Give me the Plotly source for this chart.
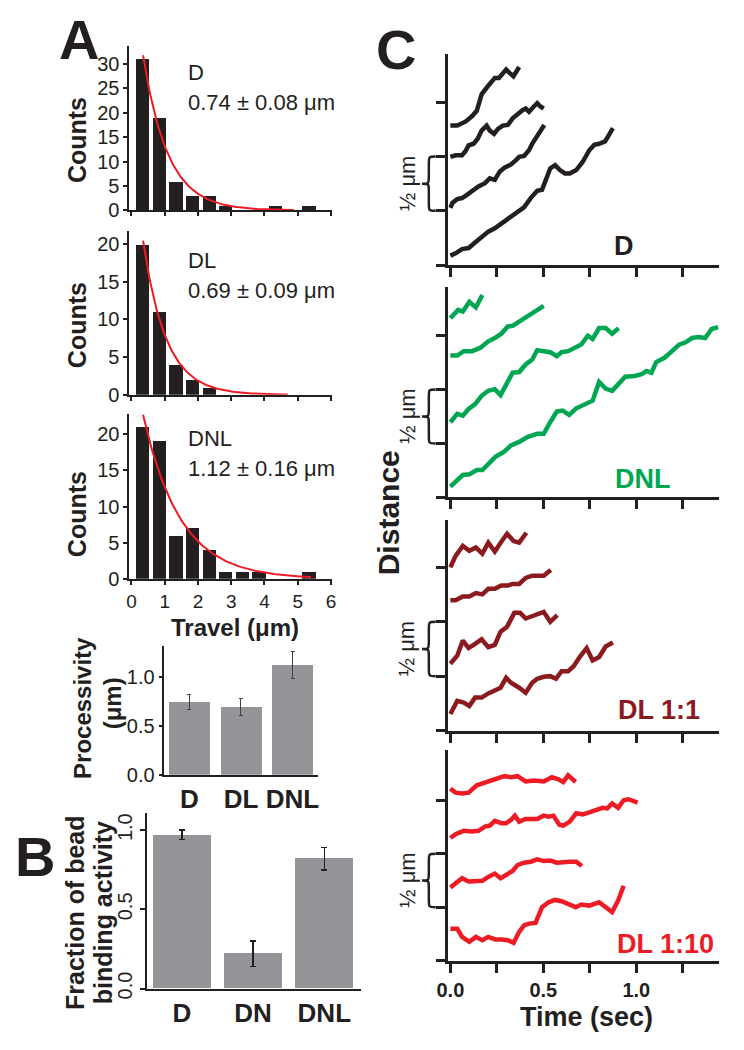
import numpy as np
import plotly.graph_objects as go

# ---------------- data ----------------
HIST_BIN_CENTERS = [0.35, 0.85, 1.35, 1.85, 2.35, 2.85, 3.35, 3.85, 4.35, 4.85, 5.35]
COUNTS_D = [31, 19, 6, 3, 3, 1, 0, 0, 1, 0, 1]
COUNTS_DL = [20, 11, 4, 2, 1, 0, 0, 0, 0, 0, 0]
COUNTS_DNL = [21, 19, 6, 7, 4, 1, 1, 1, 0, 0, 1]

HIST_NAMES = ["D", "DL", "DNL"]
HIST_MEAN_TEXT = ["0.74 ± 0.08 μm", "0.69 ± 0.09 μm", "1.12 ± 0.16 μm"]
FIT_DECAY = [0.74, 0.69, 1.12]          # mean travel (um) of exponential fits
FIT_AMPLITUDE = [50.9, 34.0, 31.0]      # fit amplitude (counts)
FIT_START = [0.35, 0.35, 0.35]
FIT_END = [4.9, 4.7, 5.4]

PROC_GROUPS = ["D", "DL", "DNL"]
PROC_MEAN = [0.74, 0.69, 1.12]
PROC_ERR = [0.08, 0.09, 0.14]

BIND_GROUPS = ["D", "DN", "DNL"]
BIND_MEAN = [0.97, 0.22, 0.82]
BIND_ERR = [0.03, 0.08, 0.07]

# Panel C traces (time in s, distance in um)
T_D1 = [0, 0.037, 0.081, 0.116, 0.142, 0.168, 0.195, 0.221, 0.239, 0.261, 0.277, 0.3, 0.318, 0.339, 0.356, 0.37]
S_D1 = [1.285, 1.285, 1.321, 1.37, 1.421, 1.573, 1.633, 1.679, 1.724, 1.724, 1.755, 1.8, 1.77, 1.739, 1.785, 1.824]
T_D2 = [0, 0.028, 0.063, 0.081, 0.098, 0.125, 0.147, 0.168, 0.195, 0.212, 0.235, 0.256, 0.282, 0.309, 0.335, 0.361, 0.388, 0.405, 0.423, 0.449, 0.467, 0.484, 0.502]
S_D2 = [0.997, 1.012, 1.012, 1.048, 1.103, 1.118, 1.164, 1.239, 1.285, 1.239, 1.209, 1.255, 1.285, 1.291, 1.352, 1.391, 1.427, 1.442, 1.412, 1.461, 1.491, 1.461, 1.442]
T_D3 = [0, 0.011, 0.037, 0.063, 0.089, 0.116, 0.151, 0.186, 0.212, 0.239, 0.265, 0.291, 0.326, 0.353, 0.370, 0.396, 0.423, 0.440, 0.458, 0.475, 0.493, 0.505]
S_D3 = [0.527, 0.573, 0.609, 0.618, 0.648, 0.685, 0.724, 0.755, 0.8, 0.785, 0.861, 0.897, 0.927, 0.967, 0.997, 1.006, 1.058, 1.118, 1.164, 1.224, 1.255, 1.291]
T_D4 = [0, 0.028, 0.063, 0.098, 0.133, 0.168, 0.204, 0.239, 0.274, 0.309, 0.361, 0.396, 0.432, 0.467, 0.493, 0.516, 0.537, 0.563, 0.589, 0.616, 0.642, 0.677, 0.712, 0.747, 0.774, 0.8, 0.832, 0.853, 0.874]
S_D4 = [0.088, 0.109, 0.148, 0.158, 0.209, 0.261, 0.309, 0.339, 0.382, 0.430, 0.482, 0.533, 0.618, 0.685, 0.694, 0.785, 0.891, 0.921, 0.876, 0.845, 0.845, 0.876, 0.952, 1.058, 1.109, 1.118, 1.139, 1.2, 1.261]

T_N1 = [0, 0.042, 0.067, 0.102, 0.137, 0.172]
S_N1 = [1.661, 1.737, 1.722, 1.813, 1.761, 1.875]
T_N2 = [0, 0.037, 0.072, 0.116, 0.160, 0.204, 0.239, 0.274, 0.309, 0.335, 0.370, 0.405, 0.440, 0.475, 0.502]
S_N2 = [1.315, 1.315, 1.355, 1.355, 1.385, 1.446, 1.477, 1.517, 1.584, 1.590, 1.630, 1.670, 1.700, 1.743, 1.774]
T_N3 = [0, 0.037, 0.067, 0.098, 0.133, 0.168, 0.204, 0.239, 0.270, 0.300, 0.335, 0.370, 0.405, 0.440, 0.467, 0.502, 0.537, 0.572, 0.598, 0.633, 0.668, 0.704, 0.739, 0.765, 0.8, 0.835, 0.870, 0.905]
S_N3 = [0.697, 0.774, 0.758, 0.820, 0.865, 0.942, 0.988, 1.003, 0.948, 1.049, 1.156, 1.162, 1.232, 1.278, 1.364, 1.355, 1.346, 1.309, 1.346, 1.355, 1.385, 1.416, 1.498, 1.468, 1.569, 1.569, 1.517, 1.569]
T_N4 = [0, 0.028, 0.067, 0.102, 0.142, 0.172, 0.207, 0.242, 0.288, 0.326, 0.370, 0.414, 0.467, 0.502, 0.537, 0.572, 0.604, 0.639, 0.677, 0.730, 0.765, 0.8, 0.835, 0.870, 0.905, 0.940, 0.993, 1.028, 1.054, 1.081, 1.107, 1.151, 1.186, 1.230, 1.265, 1.300, 1.335, 1.370, 1.405, 1.440]
S_N4 = [0.101, 0.141, 0.208, 0.214, 0.254, 0.254, 0.315, 0.376, 0.422, 0.483, 0.514, 0.560, 0.590, 0.590, 0.697, 0.795, 0.804, 0.765, 0.826, 0.865, 0.896, 1.070, 1.009, 0.988, 1.049, 1.119, 1.125, 1.141, 1.171, 1.156, 1.254, 1.294, 1.346, 1.416, 1.437, 1.477, 1.486, 1.477, 1.560, 1.578]

T_L1 = [0, 0.028, 0.067, 0.102, 0.137, 0.172, 0.204, 0.239, 0.274, 0.305, 0.340, 0.370, 0.409]
S_L1 = [1.5, 1.606, 1.697, 1.652, 1.682, 1.627, 1.727, 1.645, 1.736, 1.809, 1.742, 1.727, 1.818]
T_L2 = [0, 0.028, 0.067, 0.102, 0.137, 0.172, 0.204, 0.239, 0.274, 0.309, 0.335, 0.370, 0.405, 0.440, 0.502, 0.540]
S_L2 = [1.197, 1.197, 1.233, 1.233, 1.264, 1.252, 1.303, 1.303, 1.333, 1.333, 1.348, 1.348, 1.403, 1.424, 1.424, 1.476]
T_L3 = [0, 0.037, 0.067, 0.098, 0.133, 0.168, 0.204, 0.239, 0.270, 0.305, 0.344, 0.375, 0.405, 0.449, 0.502, 0.537, 0.575]
S_L3 = [0.615, 0.688, 0.827, 0.758, 0.797, 0.839, 0.767, 0.788, 0.909, 0.955, 1.082, 1.082, 1.030, 1.061, 1.091, 1.0, 1.061]
T_L4 = [0, 0.037, 0.072, 0.102, 0.133, 0.168, 0.204, 0.239, 0.270, 0.300, 0.326, 0.370, 0.405, 0.440, 0.467, 0.502, 0.537, 0.568, 0.598, 0.633, 0.663, 0.698, 0.733, 0.765, 0.8, 0.835, 0.874]
S_L4 = [0.152, 0.273, 0.258, 0.227, 0.303, 0.303, 0.342, 0.373, 0.394, 0.485, 0.439, 0.394, 0.348, 0.439, 0.476, 0.494, 0.5, 0.476, 0.545, 0.545, 0.591, 0.682, 0.758, 0.645, 0.676, 0.773, 0.809]

T_M1 = [0, 0.028, 0.063, 0.098, 0.142, 0.186, 0.239, 0.291, 0.326, 0.361, 0.405, 0.449, 0.502, 0.546, 0.581, 0.607, 0.633, 0.651, 0.674]
S_M1 = [1.611, 1.574, 1.565, 1.574, 1.642, 1.667, 1.698, 1.728, 1.719, 1.728, 1.679, 1.688, 1.679, 1.719, 1.698, 1.673, 1.735, 1.704, 1.673]
T_M2 = [0, 0.028, 0.072, 0.116, 0.151, 0.186, 0.212, 0.239, 0.274, 0.300, 0.326, 0.347, 0.370, 0.405, 0.432, 0.467, 0.502, 0.528, 0.554, 0.586, 0.607, 0.642, 0.677, 0.712, 0.747, 0.791, 0.818, 0.844, 0.870, 0.902, 0.932, 0.958, 0.984, 1.007]
S_M2 = [1.148, 1.185, 1.216, 1.210, 1.216, 1.256, 1.265, 1.309, 1.287, 1.287, 1.318, 1.358, 1.302, 1.327, 1.327, 1.327, 1.358, 1.349, 1.358, 1.272, 1.265, 1.302, 1.380, 1.370, 1.389, 1.420, 1.432, 1.426, 1.472, 1.432, 1.503, 1.512, 1.494, 1.481]
T_M3 = [0, 0.028, 0.063, 0.098, 0.137, 0.172, 0.204, 0.239, 0.270, 0.300, 0.335, 0.361, 0.396, 0.432, 0.467, 0.502, 0.537, 0.572, 0.607, 0.642, 0.677, 0.707]
S_M3 = [0.685, 0.722, 0.772, 0.741, 0.741, 0.747, 0.784, 0.815, 0.772, 0.809, 0.840, 0.895, 0.917, 0.926, 0.948, 0.932, 0.938, 0.917, 0.926, 0.926, 0.926, 0.886]
T_M4 = [0, 0.037, 0.063, 0.102, 0.137, 0.172, 0.204, 0.242, 0.277, 0.309, 0.340, 0.370, 0.396, 0.423, 0.458, 0.493, 0.528, 0.563, 0.598, 0.633, 0.674, 0.704, 0.747, 0.8, 0.835, 0.870, 0.902, 0.932]
S_M4 = [0.299, 0.299, 0.222, 0.176, 0.222, 0.191, 0.222, 0.198, 0.198, 0.191, 0.167, 0.269, 0.330, 0.346, 0.352, 0.5, 0.546, 0.568, 0.556, 0.531, 0.5, 0.525, 0.515, 0.546, 0.494, 0.454, 0.562, 0.701]

C_PANEL_LABELS = ["D", "DNL", "DL 1:1", "DL 1:10"]
TIME_TICKS = [0, 0.25, 0.5, 0.75, 1.0, 1.25]
TIME_TICK_TEXT = ["0.0", "", "0.5", "", "1.0", ""]

# ---------------- styling / layout helpers ----------------
W, H = 744, 1050
FONT = "Liberation Sans, Arial, Helvetica, sans-serif"
INK = "#231f20"
GRAY_BAR = "#939598"
RED = "#ED1C24"
C_COLORS = [INK, "#00A651", "#8B1A1F", "#ED1C24"]


def px_x(p):
    return p / W


def px_y(p):
    return 1 - p / H


def names(n):
    s = "" if n == 1 else str(n)
    return "xaxis" + s, "yaxis" + s, "x" + s, "y" + s


fig = go.Figure()
layout_axes = {}


def set_axes(n, xl, xr, yt, yb, xrange, yrange, xkw=None, ykw=None, lw=2, tl=4, tw=2):
    xa, ya, xr_, yr_ = names(n)
    base = dict(showline=True, linecolor=INK, linewidth=lw, ticks="outside", ticklen=tl,
                tickwidth=tw, tickcolor=INK, showgrid=False, zeroline=False,
                tickfont=dict(family=FONT, size=20, color=INK))
    xd = dict(base, domain=[px_x(xl), px_x(xr)], range=xrange, anchor=yr_)
    yd = dict(base, domain=[px_y(yb), px_y(yt)], range=yrange, anchor=xr_)
    if xkw:
        xd.update(xkw)
    if ykw:
        yd.update(ykw)
    layout_axes[xa] = xd
    layout_axes[ya] = yd
    return xr_, yr_


annotations = []


def text(x, y, s, size, color=INK, bold=False, angle=0, xanchor="center", yanchor="middle", xref="paper", yref="paper"):
    annotations.append(dict(
        x=x, y=y, xref=xref, yref=yref, text=s, showarrow=False, textangle=angle,
        xanchor=xanchor, yanchor=yanchor,
        font=dict(family=FONT, size=size, color=color, weight="bold" if bold else "normal")))


# ---------------- Panel A histograms ----------------
hist_counts = [COUNTS_D, COUNTS_DL, COUNTS_DNL]
hist_geom = [(46, 212.7, 33.7, [0, 5, 10, 15, 20, 25, 30]),
             (233, 399, 21.8, [0, 5, 10, 15, 20]),
             (418.3, 585, 22.8, [0, 5, 10, 15, 20])]
label_rows = [(73.5, 103.5), (263.5, 293.5), (443.5, 473.5)]
counts_label_y = [142, 329, 520]
for i in range(3):
    top, bot, ymax, yt = hist_geom[i]
    xkw = dict(tickvals=[0, 1, 2, 3, 4, 5, 6], showticklabels=(i == 2),
               tickfont=dict(family=FONT, size=19, color=INK))
    ykw = dict(tickvals=yt)
    xr_, yr_ = set_axes(i + 1, 120, 327, top, bot, [-0.06, 6.03], [0, ymax], xkw, ykw)
    fig.add_trace(go.Bar(x=HIST_BIN_CENTERS, y=hist_counts[i], width=0.4,
                         marker=dict(color=INK, line=dict(width=0)), xaxis=xr_, yaxis=yr_))
    xf = np.linspace(FIT_START[i], FIT_END[i], 120)
    yf = FIT_AMPLITUDE[i] * np.exp(-xf / FIT_DECAY[i])
    fig.add_trace(go.Scatter(x=xf, y=yf, mode="lines", line=dict(color=RED, width=2),
                             xaxis=xr_, yaxis=yr_))
    text(px_x(178), px_y(label_rows[i][0]), HIST_NAMES[i], 22, xanchor="left")
    text(px_x(178), px_y(label_rows[i][1]), HIST_MEAN_TEXT[i], 22, xanchor="left")
    text(px_x(66), px_y(counts_label_y[i]), "Counts", 25, bold=True, angle=-90)

text(px_x(228), px_y(634), "Travel (μm)", 24, bold=True)
text(px_x(68), px_y(40), "A", 56, bold=True)

# ---------------- Processivity bar chart ----------------
xr_, yr_ = set_axes(4, 155, 313, 653, 783, [-0.5, 2.5], [0, 1.31],
                    xkw=dict(ticks="", tickfont=dict(family=FONT, size=26, color=INK, weight="bold")),
                    ykw=dict(tickvals=[0, 0.5, 1.0], tickformat=".1f", ticklen=3))
fig.add_trace(go.Bar(x=PROC_GROUPS, y=PROC_MEAN, width=0.8,
                     marker=dict(color=GRAY_BAR, line=dict(width=0)),
                     error_y=dict(type="data", array=PROC_ERR, color="#414042", thickness=1, width=2),
                     xaxis=xr_, yaxis=yr_))
text(px_x(72), px_y(715), "Processivity", 24, bold=True, angle=-90)
text(px_x(103), px_y(711), "(μm)", 24, bold=True, angle=-90)

# ---------------- Panel B ----------------
xr_, yr_ = set_axes(5, 138, 357, 822, 999, [-0.49, 2.52], [0, 1.106],
                    xkw=dict(ticks="", tickfont=dict(family=FONT, size=26, color=INK, weight="bold")),
                    ykw=dict(tickvals=[0, 0.5, 1.0], tickformat=".1f", ticklen=5, tickangle=-90))
fig.add_trace(go.Bar(x=BIND_GROUPS, y=BIND_MEAN, width=0.81,
                     marker=dict(color=GRAY_BAR, line=dict(width=0)),
                     error_y=dict(type="data", array=BIND_ERR, color=INK, thickness=1.5, width=3),
                     xaxis=xr_, yaxis=yr_))
text(px_x(65), px_y(923), "Fraction of bead", 25, bold=True, angle=-90)
text(px_x(93), px_y(923), "binding activity", 25, bold=True, angle=-90)
text(px_x(24), px_y(866), "B", 56, bold=True)

# ---------------- Panel C ----------------
c_traces = [[(T_D1, S_D1), (T_D2, S_D2), (T_D3, S_D3), (T_D4, S_D4)],
            [(T_N1, S_N1), (T_N2, S_N2), (T_N3, S_N3), (T_N4, S_N4)],
            [(T_L1, S_L1), (T_L2, S_L2), (T_L3, S_L3), (T_L4, S_L4)],
            [(T_M1, S_M1), (T_M2, S_M2), (T_M3, S_M3), (T_M4, S_M4)]]
c_geom = [(55, 268, 1.94), (290, 502.7, 1.95), (525, 738.3, 1.94), (758.3, 970.7, 1.97)]
c_label_pos = [(625, 249), (645, 484), (661, 718), (668, 954)]
shapes = []
for k in range(4):
    top, bot, ymax = c_geom[k]
    last = (k == 3)
    xkw = dict(tickvals=TIME_TICKS, ticktext=TIME_TICK_TEXT, showticklabels=last,
               tickfont=dict(family=FONT, size=20, color=INK, weight="bold"))
    ykw = dict(tickvals=[0, 0.5, 1.0, 1.5], showticklabels=False)
    xr_, yr_ = set_axes(6 + k, 446, 723, top, bot, [-0.0105, 1.447], [0, ymax], xkw, ykw,
                        lw=3, tl=9, tw=2.5)
    for (t, s) in c_traces[k]:
        fig.add_trace(go.Scatter(x=t, y=s, mode="lines",
                                 line=dict(color=C_COLORS[k], width=4.5),
                                 xaxis=xr_, yaxis=yr_))
    # curly brace spanning half a micron (0.5 -> 1.0)
    xr_b, xm_b, xl_b = px_x(433), px_x(426), px_x(419)
    y1, y0, ym, e = 1.0, 0.5, 0.75, 0.07
    path = (f"M {xr_b},{y1} C {xm_b},{y1} {xm_b},{y1} {xm_b},{y1 - e} L {xm_b},{ym + e} "
            f"C {xm_b},{ym} {xm_b},{ym} {xl_b},{ym} C {xm_b},{ym} {xm_b},{ym} {xm_b},{ym - e} "
            f"L {xm_b},{y0 + e} C {xm_b},{y0} {xm_b},{y0} {xr_b},{y0}")
    shapes.append(dict(type="path", path=path, xref="paper", yref=yr_,
                       line=dict(color=INK, width=2.5)))
    text(px_x(404), 0.75, "½ μm", 22, angle=-90, yref=yr_)
    lx, ly = c_label_pos[k]
    text(px_x(lx), px_y(ly), C_PANEL_LABELS[k], 27, color=C_COLORS[k], bold=True)

text(px_x(385), px_y(518), "Distance", 30, bold=True, angle=-90)
text(px_x(587), px_y(1028), "Time (sec)", 27, bold=True)
text(px_x(392), px_y(50), "C", 56, bold=True)

fig.update_layout(
    width=W, height=H, margin=dict(l=0, r=0, t=0, b=0),
    paper_bgcolor="white", plot_bgcolor="white", showlegend=False,
    bargap=0, annotations=annotations, shapes=shapes,
    font=dict(family=FONT, color=INK),
    **layout_axes)

fig.write_html("out.html", config={"displayModeBar": False},
               post_script="document.body.style.margin='0px';")
